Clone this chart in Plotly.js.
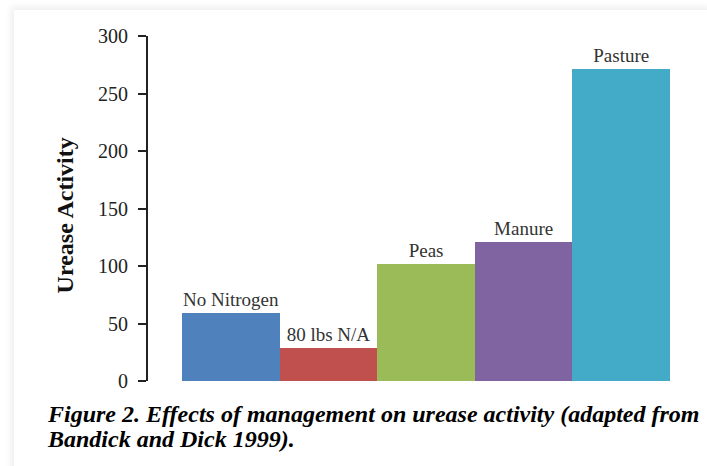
<!DOCTYPE html>
<html>
<head>
<meta charset="utf-8">
<script src="https://cdn.plot.ly/plotly-3.0.1.min.js"></script>
<style>
  html, body { margin: 0; padding: 0; background: #ffffff; width: 707px; height: 466px; overflow: hidden; }
  #frame { position: absolute; left: 14px; top: 10px; width: 700px; height: 470px; background: #ffffff;
           box-shadow: -3px -3px 7px rgba(0,0,0,0.07); }
  #chart { position: absolute; left: 0; top: 0; width: 707px; height: 466px; }
</style>
</head>
<body>
<div id="frame"></div>
<div id="chart"></div>
<script>
const categories = ["No Nitrogen", "80 lbs N/A", "Peas", "Manure", "Pasture"];
const values = [59, 29, 102, 121, 271];
const barColors = ["#4F81BD", "#C0504D", "#9BBB59", "#8064A2", "#43AAC8"];
const yTicks = [0, 50, 100, 150, 200, 250, 300];
const yTitle = "Urease Activity";
const captionLines = ["Figure 2. Effects of management on urease activity (adapted from", "Bandick and Dick 1999)."];

const serif = "Liberation Serif";

const trace = {
  type: "bar",
  x: categories.map((c, i) => i),
  y: values,
  text: categories,
  textposition: "outside",
  cliponaxis: false,
  textfont: { family: serif, size: 19, color: "#333333" },
  marker: { color: barColors, line: { width: 0 } },
  hoverinfo: "skip"
};

const annotations = [
  { text: "<b>" + yTitle + "</b>", xref: "paper", yref: "paper",
    x: -0.159, y: 0.48, xanchor: "center", yanchor: "middle", textangle: -90,
    showarrow: false, font: { family: serif, size: 24, color: "#111111" } }
];
const captionY = [-0.0957, -0.168];
captionLines.forEach((line, i) => annotations.push({
  text: "<b><i>" + line + "</i></b>", xref: "paper", yref: "paper",
  x: -0.197, y: captionY[i], xanchor: "left", yanchor: "middle", align: "left",
  showarrow: false, font: { family: serif, size: 24, color: "#000000" }
}));

const layout = {
  width: 707, height: 466,
  margin: { l: 148, r: 37, t: 36, b: 85, pad: 0 },
  paper_bgcolor: "rgba(0,0,0,0)",
  plot_bgcolor: "rgba(0,0,0,0)",
  showlegend: false,
  bargap: 0,
  font: { family: serif },
  xaxis: { range: [-0.85, 4.5], visible: false, fixedrange: true },
  yaxis: {
    range: [0, 300], tickvals: yTicks, ticktext: yTicks.map(String),
    ticks: "outside", ticklen: 8, tickwidth: 2, tickcolor: "#222222",
    ticklabelstandoff: 6,
    showline: true, linewidth: 2, linecolor: "#222222",
    showgrid: false, zeroline: false,
    tickfont: { family: serif, size: 20, color: "#222222" },
    fixedrange: true
  },
  annotations: annotations
};

Plotly.newPlot("chart", [trace], layout, { displayModeBar: false, staticPlot: true });
</script>
</body>
</html>
